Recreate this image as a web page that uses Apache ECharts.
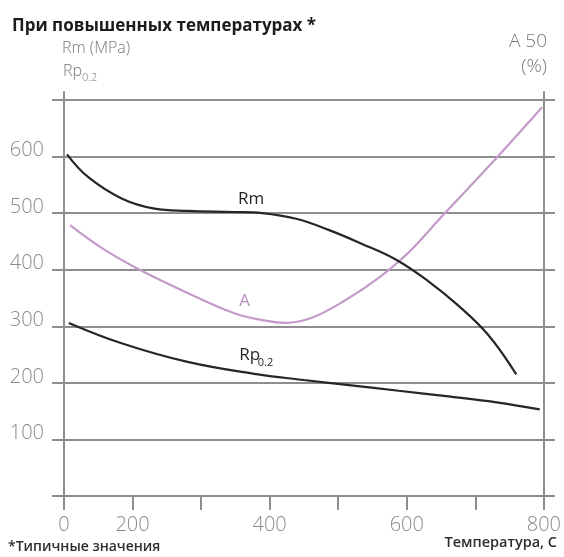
<!DOCTYPE html>
<html>
<head>
<meta charset="utf-8">
<script src="https://cdn.jsdelivr.net/npm/echarts@6/dist/echarts.min.js"></script>
<style>
  html, body { margin: 0; padding: 0; background: #fff; }
  #chart { width: 564px; height: 557px; }
</style>
</head>
<body>
<div id="chart"></div>
<script>
// ---- data ----
const tempTickLabels = ['0', '200', '', '400', '', '600', '', '800'];
const yTickLabels = [100, 200, 300, 400, 500, 600];

const rmTemp   = [5, 40, 96, 151, 206, 284, 330, 387, 442, 496, 553, 607, 657, 707, 754];
const rmValues = [604, 564, 526, 508, 504, 502, 500, 490, 470, 446, 418, 380, 337, 285, 215];

const aTemp   = [10, 68, 126, 206, 284, 330, 370, 413, 469, 524, 574, 629, 724, 797];
const aValues = [479, 435, 400, 359, 323, 311, 306, 315, 346, 385, 430, 493, 601, 687];

const rpTemp   = [8, 96, 206, 317, 400, 475, 558, 641, 724, 793];
const rpValues = [306, 270, 237, 216, 205, 196, 186, 176, 165, 153];

// ---- presentation ----
const FONT = '"Open Sans", "DejaVu Sans", sans-serif';
const GRID_COLOR = '#8e8e8e';
const LABEL_COLOR = '#8a8a8a';
const DARK = '#262626';
const PINK = '#c39bc8';
const X_MAX = 800;
const X_STEP = X_MAX / 7;
const Y_MAX_DATA = 700 * 404 / 396;

const zip = (xs, ys) => xs.map((x, i) => [x, ys[i]]);

const chart = echarts.init(document.getElementById('chart'), null, { renderer: 'canvas' });

const lineSeries = (name, xs, ys, color, yIdx, z) => ({
  name, type: 'line', xAxisIndex: 0, yAxisIndex: yIdx, z,
  data: zip(xs, ys), showSymbol: false, smooth: 0.4,
  lineStyle: { color, width: 2.2 }
});

const option = {
  backgroundColor: '#ffffff',
  animation: false,
  grid: [
    { left: 64, right: 18, top: 92, bottom: 61 },
    { left: 52, right: 9, top: 100, bottom: 61 }
  ],
  xAxis: [
    {
      type: 'value', gridIndex: 0, min: 0, max: X_MAX, interval: X_STEP,
      axisLine: { show: true, lineStyle: { color: GRID_COLOR, width: 2 } },
      axisTick: { show: true, length: 14, lineStyle: { color: GRID_COLOR, width: 2 } },
      axisLabel: {
        formatter: v => { const i = Math.round(v / X_STEP); return tempTickLabels[i] || ''; },
        color: LABEL_COLOR, fontSize: 20, fontFamily: FONT, fontWeight: 300, margin: 19,
        showMinLabel: true, showMaxLabel: true
      },
      splitLine: { show: false }
    },
    { type: 'value', gridIndex: 1, min: 0, max: 1, show: false }
  ],
  yAxis: [
    {
      type: 'value', gridIndex: 0, min: 0, max: Y_MAX_DATA, interval: 100, position: 'left',
      axisLine: { show: true, lineStyle: { color: GRID_COLOR, width: 2 } },
      axisTick: { show: false },
      splitLine: { show: false },
      axisLabel: {
        formatter: v => yTickLabels.includes(Math.round(v)) && Math.abs(v - Math.round(v)) < 1e-6 ? String(Math.round(v)) : '',
        color: LABEL_COLOR, fontSize: 20, fontFamily: FONT, fontWeight: 300, margin: 20,
        verticalAlign: 'bottom', lineHeight: 12
      }
    },
    {
      type: 'value', gridIndex: 0, min: 0, max: Y_MAX_DATA, interval: 100, position: 'right',
      axisLine: { show: true, lineStyle: { color: GRID_COLOR, width: 2 } },
      axisTick: { show: false }, axisLabel: { show: false }, splitLine: { show: false }
    },
    {
      type: 'value', gridIndex: 1, min: 0, max: 700, interval: 100,
      axisLine: { show: false }, axisTick: { show: false }, axisLabel: { show: false },
      splitLine: { show: true, lineStyle: { color: GRID_COLOR, width: 2 } }
    }
  ],
  series: [
    lineSeries('Rm', rmTemp, rmValues, DARK, 0, 5),
    lineSeries('A', aTemp, aValues, PINK, 1, 4),
    lineSeries('Rp0.2', rpTemp, rpValues, DARK, 0, 5)
  ]
};
chart.setOption(option);

// curve label anchors in data space [temperature, value]
const rmLabelAt = [312, 525];
const aLabelAt = [301, 345];
const rpLabelAt = [292, 249];
const rpSubAt = [323, 235];

const px = p => chart.convertToPixel({ xAxisIndex: 0, yAxisIndex: 0 }, p);
const rmP = px(rmLabelAt), aP = px(aLabelAt), rpP = px(rpLabelAt), rpS = px(rpSubAt);

chart.setOption({
  graphic: [
    { type: 'text', left: 12, top: 18, z: 10,
      style: { text: 'При повышенных температурах *', font: 'bold 17px ' + FONT, fill: '#1c1c1c' } },
    { type: 'text', left: 62, top: 40, z: 10,
      style: { text: 'Rm (MPa)', font: '300 16px ' + FONT, fill: '#777777' } },
    { type: 'text', left: 63, top: 63, z: 10,
      style: { text: 'Rp', font: '300 16px ' + FONT, fill: '#777777' } },
    { type: 'text', left: 82, top: 72, z: 10,
      style: { text: '0.2', font: '300 11px ' + FONT, fill: '#777777' } },
    { type: 'text', right: 17, top: 32, z: 10,
      style: { text: 'A 50', font: '300 19px ' + FONT, fill: '#777777' } },
    { type: 'text', right: 17, top: 57, z: 10,
      style: { text: '(%)', font: '300 19px ' + FONT, fill: '#777777' } },
    { type: 'text', left: 8, top: 540, z: 10,
      style: { text: '*Типичные значения', font: '600 14px ' + FONT, fill: '#2e2e2e' } },
    { type: 'text', right: 7, top: 535, z: 10,
      style: { text: 'Температура, С', font: '600 14.5px ' + FONT, fill: '#2e2e2e' } },
    { type: 'text', x: rmP[0], y: rmP[1], z: 10,
      style: { text: 'Rm', font: '17px ' + FONT, fill: DARK, textAlign: 'center', textVerticalAlign: 'middle' } },
    { type: 'text', x: aP[0], y: aP[1], z: 10,
      style: { text: 'A', font: '17px ' + FONT, fill: '#b88cbe', textAlign: 'center', textVerticalAlign: 'middle' } },
    { type: 'text', x: rpP[0], y: rpP[1], z: 10,
      style: { text: 'Rp', font: '17px ' + FONT, fill: DARK, textAlign: 'left', textVerticalAlign: 'middle' } },
    { type: 'text', x: rpS[0], y: rpS[1], z: 10,
      style: { text: '0.2', font: '11px ' + FONT, fill: DARK, textAlign: 'left', textVerticalAlign: 'middle' } }
  ]
});
</script>
</body>
</html>
